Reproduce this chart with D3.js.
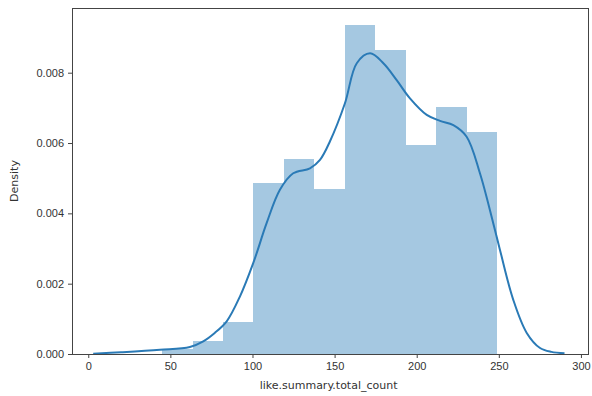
<!DOCTYPE html>
<html>
<head>
<meta charset="utf-8">
<script src="https://cdn.jsdelivr.net/npm/d3@7"></script>
<style>
    body { margin: 0; background: #fff; }
    svg { display: block; font-family: "DejaVu Sans", sans-serif; }
</style>
</head>
<body>
<div id="chart"></div>
<script>
// histogram bins (edges) and their densities
const binEdges = [45, 63.5, 82.1, 100.6, 119.2, 137.7, 156.3, 174.8, 193.4, 211.9, 230.5, 249];
const binDensity = [0.00015, 0.00036, 0.0009, 0.00487, 0.00555, 0.0047, 0.00937, 0.00864, 0.00594, 0.00702, 0.0063];

// kde curve
const kdeX = [3, 20, 43.7, 61.9, 70, 77, 84.3, 92.4, 100.5, 108.6, 116.7, 124.8, 135, 141.1, 147.2, 156.3, 163.5, 171.6, 179.7, 187.8, 195.9, 206.1, 214.2, 222.3, 230.4, 238.5, 246.6, 250.7, 258.8, 267, 275.1, 282, 290];
const kdeY = [0.00001, 0.00005, 0.00012, 0.0002, 0.00036, 0.0006, 0.00093, 0.00164, 0.00259, 0.00372, 0.00467, 0.00514, 0.00528, 0.00552, 0.00605, 0.00713, 0.00827, 0.00855, 0.00827, 0.00779, 0.00727, 0.0068, 0.00663, 0.00651, 0.00618, 0.00514, 0.00372, 0.00296, 0.00154, 0.0006, 0.00017, 0.00006, 0.00002];

const xTicks = [0, 50, 100, 150, 200, 250, 300];
const yTicks = [0, 0.002, 0.004, 0.006, 0.008];

const W = 592, H = 396;
const margin = { top: 8, right: 4, bottom: 42, left: 72 };
const width = W - margin.left - margin.right;
const height = H - margin.top - margin.bottom;

const svg = d3.select("#chart")
    .append("svg")
    .attr("width", W)
    .attr("height", H);

const g = svg.append("g")
    .attr("transform", `translate(${margin.left},${margin.top})`);

const x = d3.scaleLinear().domain([-9.9, 304.3]).range([0, width]);
const y = d3.scaleLinear().domain([0, 0.00984]).range([height, 0]);

// bars
const bins = binDensity.map((d, i) => ({ x0: binEdges[i], x1: binEdges[i + 1], v: d }));
g.selectAll(".bar")
    .data(bins)
    .enter()
    .append("rect")
    .attr("class", "bar")
    .attr("x", d => x(d.x0))
    .attr("width", d => x(d.x1) - x(d.x0))
    .attr("y", d => y(d.v))
    .attr("height", d => y(0) - y(d.v))
    .attr("fill", "#a5c8e1")
    .attr("shape-rendering", "crispEdges");

// kde line
const line = d3.line()
    .x(d => x(d[0]))
    .y(d => y(d[1]))
    .curve(d3.curveCatmullRom);

g.append("path")
    .datum(kdeX.map((v, i) => [v, kdeY[i]]))
    .attr("fill", "none")
    .attr("stroke", "#2a7ab6")
    .attr("stroke-width", 2)
    .attr("d", line);

// axes
const xAxis = g.append("g")
    .attr("transform", `translate(0,${height})`)
    .call(d3.axisBottom(x).tickValues(xTicks).tickSize(4).tickPadding(4));

const yAxis = g.append("g")
    .call(d3.axisLeft(y).tickValues(yTicks).tickFormat(d3.format(".3f")).tickSize(4).tickPadding(4));

[xAxis, yAxis].forEach(a => {
    a.select(".domain").remove();
    a.selectAll("line").attr("stroke", "#444");
    a.selectAll("text").attr("font-size", "11px").attr("fill", "#333");
});

// frame
g.append("rect")
    .attr("x", 0.5)
    .attr("y", 0.5)
    .attr("width", width)
    .attr("height", height)
    .attr("fill", "none")
    .attr("stroke", "#444")
    .attr("stroke-width", 1);

// labels
svg.append("text")
    .attr("x", margin.left + x(150) - 6)
    .attr("y", 389)
    .attr("text-anchor", "middle")
    .attr("font-size", "11px")
    .attr("fill", "#333")
    .text("like.summary.total_count");

svg.append("text")
    .attr("transform", `translate(18,${margin.top + height / 2}) rotate(-90)`)
    .attr("text-anchor", "middle")
    .attr("font-size", "11px")
    .attr("fill", "#333")
    .text("Density");
</script>
</body>
</html>
